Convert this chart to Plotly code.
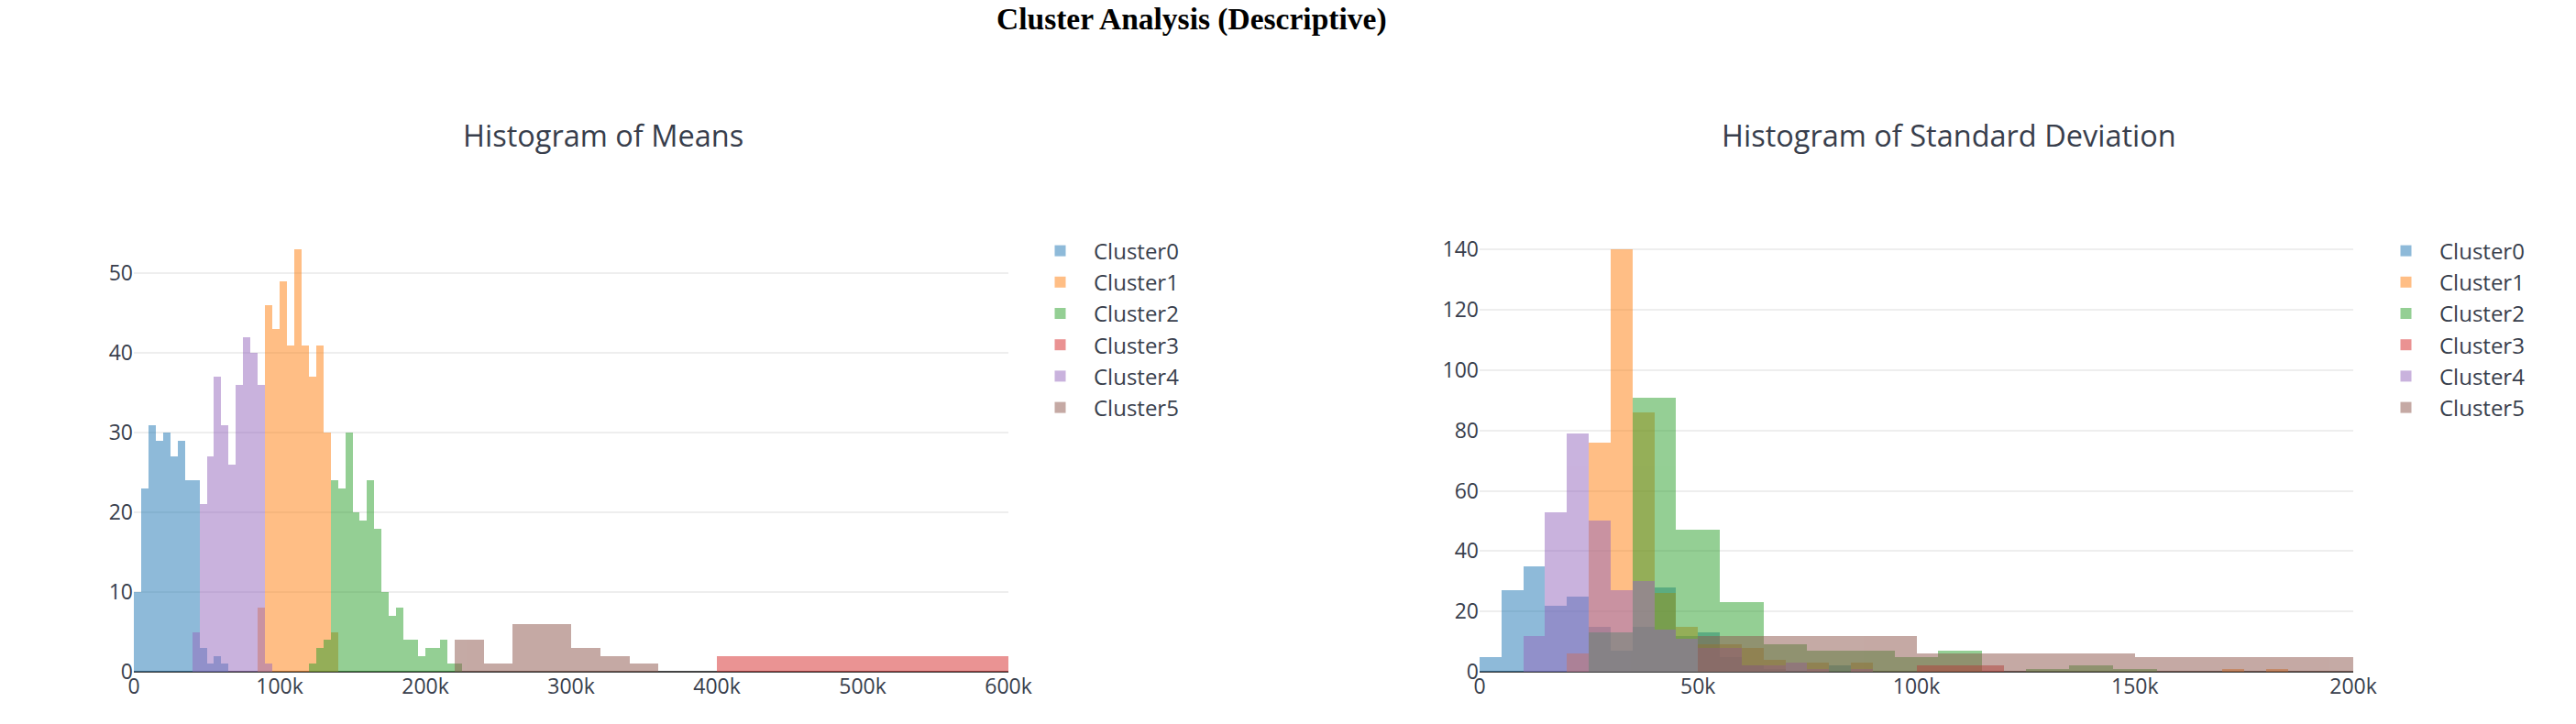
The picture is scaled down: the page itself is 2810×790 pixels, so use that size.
import plotly.graph_objects as go

# ---------------- data ----------------
clusters = ["Cluster0", "Cluster1", "Cluster2", "Cluster3", "Cluster4", "Cluster5"]
colors = ["#1f77b4", "#ff7f0e", "#2ca02c", "#d62728", "#9467bd", "#8c564b"]

# Histogram of Means: left bin edges, bin size, counts per cluster
mean_size = [5000, 5000, 5000, 200000, 5000, 20000]
mean_c0_edges = [0, 5000, 10000, 15000, 20000, 25000, 30000, 35000, 40000, 45000, 50000, 55000, 60000]
mean_c0_counts = [10, 23, 31, 29, 30, 27, 29, 24, 24, 3, 1, 2, 1]
mean_c1_edges = [85000, 90000, 95000, 100000, 105000, 110000, 115000, 120000, 125000, 130000, 135000]
mean_c1_counts = [8, 46, 43, 49, 41, 53, 41, 37, 41, 30, 5]
mean_c2_edges = [120000, 125000, 130000, 135000, 140000, 145000, 150000, 155000, 160000, 165000, 170000,
                 175000, 180000, 185000, 190000, 195000, 200000, 205000, 210000, 215000, 220000]
mean_c2_counts = [1, 3, 4, 24, 23, 30, 20, 19, 24, 18, 10, 7, 8, 4, 4, 2, 3, 3, 4, 1, 1]
mean_c3_edges = [400000]
mean_c3_counts = [2]
mean_c4_edges = [40000, 45000, 50000, 55000, 60000, 65000, 70000, 75000, 80000, 85000, 90000]
mean_c4_counts = [5, 21, 27, 37, 31, 26, 36, 42, 40, 36, 1]
mean_c5_edges = [220000, 240000, 260000, 280000, 300000, 320000, 340000]
mean_c5_counts = [4, 1, 6, 6, 3, 2, 1]

# Histogram of Standard Deviation
std_size = [5000, 5000, 10000, 20000, 5000, 50000]
std_c0_edges = [0, 5000, 10000, 15000, 20000, 25000, 30000, 35000, 40000, 45000, 50000, 55000, 60000, 65000, 80000]
std_c0_counts = [5, 27, 35, 22, 25, 15, 7, 15, 28, 12, 13, 5, 2, 1, 2]
std_c1_edges = [20000, 25000, 30000, 35000, 40000, 45000, 50000, 55000, 60000, 65000, 75000, 85000, 170000, 180000]
std_c1_counts = [6, 76, 140, 86, 26, 15, 9, 9, 8, 4, 3, 3, 1, 1]
std_c2_edges = [25000, 35000, 45000, 55000, 65000, 75000, 85000, 95000, 105000, 125000, 135000, 145000]
std_c2_counts = [13, 91, 47, 23, 9, 7, 7, 5, 7, 1, 2, 1]
std_c3_edges = [100000]
std_c3_counts = [2]
std_c4_edges = [10000, 15000, 20000, 25000, 30000, 35000, 40000, 45000, 50000, 55000, 60000, 65000, 70000, 75000, 85000]
std_c4_counts = [12, 53, 79, 50, 27, 30, 14, 11, 8, 8, 2, 2, 3, 1, 1]
std_c5_edges = [50000, 100000, 150000]
std_c5_counts = [12, 6, 5]

mean_edges = [mean_c0_edges, mean_c1_edges, mean_c2_edges, mean_c3_edges, mean_c4_edges, mean_c5_edges]
mean_counts = [mean_c0_counts, mean_c1_counts, mean_c2_counts, mean_c3_counts, mean_c4_counts, mean_c5_counts]
std_edges = [std_c0_edges, std_c1_edges, std_c2_edges, std_c3_edges, std_c4_edges, std_c5_edges]
std_counts = [std_c0_counts, std_c1_counts, std_c2_counts, std_c3_counts, std_c4_counts, std_c5_counts]

main_title = "Cluster Analysis (Descriptive)"
title_left = "Histogram of Means"
title_right = "Histogram of Standard Deviation"

# ---------------- figure ----------------
W, H = 2810, 790
fig = go.Figure()

for i, name in enumerate(clusters):
    fig.add_trace(go.Bar(
        x=mean_edges[i], y=mean_counts[i], width=mean_size[i], offset=0,
        name=name, marker=dict(color=colors[i], line=dict(width=0)), opacity=0.5,
        xaxis="x", yaxis="y", legend="legend", hoverinfo="x+y+name"))
for i, name in enumerate(clusters):
    fig.add_trace(go.Bar(
        x=std_edges[i], y=std_counts[i], width=std_size[i], offset=0,
        name=name, marker=dict(color=colors[i], line=dict(width=0)), opacity=0.5,
        xaxis="x2", yaxis="y2", legend="legend2", hoverinfo="x+y+name"))

txt = "#383e4c"
ydom = [57 / H, 542 / H]
axis_font = dict(family='"Open Sans", verdana, arial, sans-serif', size=23, color=txt)

xcommon = dict(showgrid=False, zeroline=False, showline=False, ticks="", ticklen=0,
               automargin=False, tickfont=axis_font)
ycommon = dict(showgrid=True, gridcolor="#eeeeee", gridwidth=2, zeroline=True,
               zerolinecolor="#444444", zerolinewidth=2, showline=False, ticks="", ticklen=0,
               automargin=False, tickfont=axis_font)

leg_common = dict(xanchor="left", yanchor="top", itemwidth=63,
                  font=dict(size=24, color=txt), bgcolor="rgba(0,0,0,0)")

fig.update_layout(
    width=W, height=H, autosize=False,
    margin=dict(l=0, r=0, t=0, b=0, pad=0),
    paper_bgcolor="white", plot_bgcolor="white",
    font=dict(family='"Open Sans", verdana, arial, sans-serif', size=23, color=txt),
    barmode="overlay", bargap=0, bargroupgap=0, showlegend=True,
    xaxis=dict(domain=[146 / W, 1100 / W], range=[0, 600000], dtick=100000, anchor="y", **xcommon),
    yaxis=dict(domain=ydom, range=[0, 55.79], dtick=10, anchor="x", **ycommon),
    xaxis2=dict(domain=[1614 / W, 2567 / W], range=[0, 200000], dtick=50000, anchor="y2", **xcommon),
    yaxis2=dict(domain=ydom, range=[0, 147.37], dtick=20, anchor="x2", **ycommon),
    legend=dict(x=1120 / W, y=(H - 251.5) / H, **leg_common),
    legend2=dict(x=2588 / W, y=(H - 251.5) / H, **leg_common),
    annotations=[
        dict(text="<b>" + main_title + "</b>", x=1300 / W, y=1.0, xref="paper", yref="paper",
             xanchor="center", yanchor="top", showarrow=False,
             font=dict(family="Liberation Serif, 'Times New Roman', serif", size=33.5, color="#000000")),
        dict(text=title_left, x=658 / W, y=(H - 147) / H, xref="paper", yref="paper",
             xanchor="center", yanchor="middle", showarrow=False,
             font=dict(size=32.5, color=txt)),
        dict(text=title_right, x=2126 / W, y=(H - 147) / H, xref="paper", yref="paper",
             xanchor="center", yanchor="middle", showarrow=False,
             font=dict(size=32.5, color=txt)),
    ],
)

fig.write_html("out.html", config={"displayModeBar": False},
               post_script="document.body.style.margin='0';document.body.style.overflow='hidden';")
